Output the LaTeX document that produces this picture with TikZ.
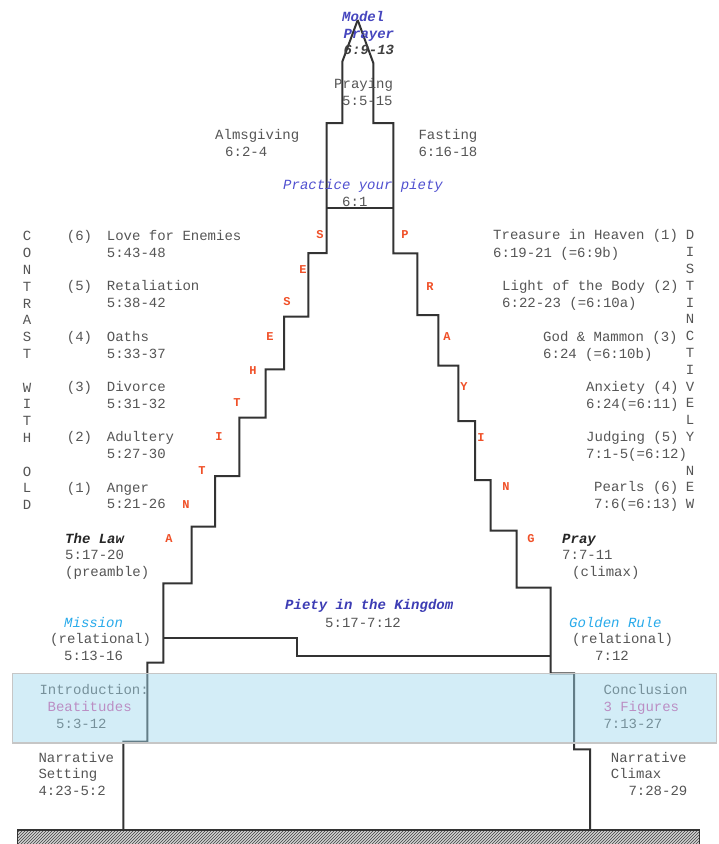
\documentclass[tikz,border=0pt]{standalone}
\usepackage{fontspec}
\newfontfamily\mono{Liberation Mono}
\usetikzlibrary{patterns}
\definecolor{tgray}{HTML}{555555}
\definecolor{lgray}{HTML}{333333}
\definecolor{mblue}{HTML}{4646BE}
\definecolor{pblue}{HTML}{5050D0}
\definecolor{kblue}{HTML}{3C3CB4}
\definecolor{cyanb}{HTML}{28AAEB}
\definecolor{magb}{HTML}{D250A0}
\definecolor{redl}{HTML}{F05028}
\definecolor{bandc}{RGB}{159,217,239}
\begin{document}
\begin{tikzpicture}[x=1pt,y=-1pt,
  txt/.style={anchor=base west, inner sep=0pt, yshift=-4.8pt, font=\mono\fontsize{14}{16.8}\selectfont, text=tgray},
  vtxt/.style={txt, anchor=base},
  bi/.style={font=\mono\fontsize{14}{16.8}\selectfont\bfseries\itshape},
  it/.style={font=\mono\fontsize{14}{16.8}\selectfont\itshape},
  redlet/.style={anchor=center, inner sep=0pt, font=\mono\fontsize{12}{12}\selectfont\bfseries, text=redl},
  outline/.style={draw=lgray, line width=2pt, line join=miter}]
\useasboundingbox (0,0) rectangle (719,844);
\fill[white] (0,0) rectangle (719,844);

% hatched ground
\fill[gray!35] (17.3,830) rectangle (699.3,848);
\fill[pattern=north east lines, pattern color=black!75] (17.3,830) rectangle (699.3,848);
\draw[lgray, line width=1.2pt] (17.3,848) -- (17.3,830) -- (699.3,830) -- (699.3,848);

% main outline
\draw[outline] (357.7,20) -- (342.3,61.7) -- (342.3,123) -- (326.7,123) -- (326.7,253)
  -- (308.3,253) -- (308.3,316.7) -- (284,316.7) -- (284,369.3) -- (265.7,369.3)
  -- (265.7,417.7) -- (239.3,417.7) -- (239.3,476) -- (215,476) -- (215,526.7)
  -- (191.7,526.7) -- (191.7,583.3) -- (163.3,583.3) -- (163.3,662.7) -- (147.3,662.7)
  -- (147.3,741.5) -- (123.3,741.5) -- (123.3,830);
\draw[outline] (357.7,20) -- (373.3,63) -- (373.3,123) -- (393.3,123) -- (393.3,253.3)
  -- (417.3,253.3) -- (417.3,315) -- (438.3,315) -- (438.3,365.7) -- (458.3,365.7)
  -- (458.3,421) -- (475,421) -- (475,480) -- (490.7,480) -- (490.7,530.7)
  -- (516.7,530.7) -- (516.7,587.7) -- (550.7,587.7) -- (550.7,673.3) -- (574,673.3)
  -- (574,749.3) -- (590,749.3) -- (590,830);
\draw[outline] (326.7,208.3) -- (393.3,208.3);
\draw[outline] (163.3,637.5) -- (296.7,637.5) -- (296.7,656) -- (550.7,656);

% top texts
\node[txt,bi,text=mblue] (model) at (342,17) {Model};
\node[txt,bi,text=mblue] (prayer) at (343.5,33.5) {Prayer};
\node[txt,bi,text=black!75] (mpref) at (343.5,50) {6:9-13};
\node[txt] (praying) at (334,84) {Praying};
\node[txt] (prayref) at (342,101) {5:5-15};
\node[txt] (alms) at (215,135) {Almsgiving};
\node[txt] (almsref) at (225,152) {6:2-4};
\node[txt] (fast) at (418.3,135) {Fasting};
\node[txt] (fastref) at (418.3,152) {6:16-18};
\node[txt,it,text=pblue] (practice) at (283,185) {Practice your piety};
\node[txt] (practref) at (342,202) {6:1};

% left column
\foreach \c [count=\i from 0] in {C,O,N,T,R,A,S,T,,W,I,T,H,,O,L,D}
  \node[vtxt] (cw\i) at (27,236+16.8*\i) {\c};
\node[txt] (n6) at (66.7,236) {(6)};
\node[txt] (love) at (106.7,236) {Love for Enemies};
\node[txt] (loveref) at (106.7,253) {5:43-48};
\node[txt] (n5) at (66.7,286) {(5)};
\node[txt] (retal) at (106.7,286) {Retaliation};
\node[txt] (retalref) at (106.7,303) {5:38-42};
\node[txt] (n4) at (66.7,337) {(4)};
\node[txt] (oaths) at (106.7,337) {Oaths};
\node[txt] (oathsref) at (106.7,354) {5:33-37};
\node[txt] (n3) at (66.7,387) {(3)};
\node[txt] (divorce) at (106.7,387) {Divorce};
\node[txt] (divref) at (106.7,404) {5:31-32};
\node[txt] (n2) at (66.7,437) {(2)};
\node[txt] (adult) at (106.7,437) {Adultery};
\node[txt] (adultref) at (106.7,454) {5:27-30};
\node[txt] (n1) at (66.7,488) {(1)};
\node[txt] (anger) at (106.7,488) {Anger};
\node[txt] (angerref) at (106.7,504) {5:21-26};

% right column
\foreach \c [count=\i from 0] in {D,I,S,T,I,N,C,T,I,V,E,L,Y,,N,E,W}
  \node[vtxt] (dn\i) at (690,235+16.8*\i) {\c};
\node[txt] (treas) at (493,235) {Treasure in Heaven (1)};
\node[txt] (treasref) at (493,253) {6:19-21 (=6:9b)};
\node[txt] (light) at (502,286) {Light of the Body (2)};
\node[txt] (lightref) at (502,303) {6:22-23 (=6:10a)};
\node[txt] (god) at (543,337) {God \& Mammon (3)};
\node[txt] (godref) at (543,354) {6:24 (=6:10b)};
\node[txt] (anx) at (586,387) {Anxiety (4)};
\node[txt] (anxref) at (586,404) {6:24(=6:11)};
\node[txt] (judg) at (586,437) {Judging (5)};
\node[txt] (judgref) at (586,454) {7:1-5(=6:12)};
\node[txt] (pearls) at (594,487) {Pearls (6)};
\node[txt] (pearlsref) at (594,504) {7:6(=6:13)};

% red letters
\node[redlet] (rS1) at (320,235) {S};
\node[redlet] (rE1) at (303,270) {E};
\node[redlet] (rS2) at (287,302) {S};
\node[redlet] (rE2) at (270,337) {E};
\node[redlet] (rH) at (253,371) {H};
\node[redlet] (rT1) at (237,403) {T};
\node[redlet] (rI) at (219,437) {I};
\node[redlet] (rT2) at (202,471) {T};
\node[redlet] (rN) at (186,505) {N};
\node[redlet] (rA) at (169,539) {A};
\node[redlet] (pP) at (405,235) {P};
\node[redlet] (pR) at (430,287) {R};
\node[redlet] (pA) at (447,337) {A};
\node[redlet] (pY) at (464,387) {Y};
\node[redlet] (pI) at (481,438) {I};
\node[redlet] (pN) at (506,487) {N};
\node[redlet] (pG) at (531,539) {G};

% lower texts
\node[txt,bi,text=black!85] (law) at (65,539) {The Law};
\node[txt] (lawref) at (65,555) {5:17-20};
\node[txt] (pream) at (65,572) {(preamble)};
\node[txt,it,text=cyanb] (mission) at (64,623) {Mission};
\node[txt] (relL) at (50,639) {(relational)};
\node[txt] (missref) at (64,656) {5:13-16};
\node[txt,bi,text=black!85] (pray) at (562,539) {Pray};
\node[txt] (prayref2) at (562,555) {7:7-11};
\node[txt] (climax) at (572,572) {(climax)};
\node[txt,it,text=cyanb] (golden) at (569,623) {Golden Rule};
\node[txt] (relR) at (572,639) {(relational)};
\node[txt] (goldref) at (595,656) {7:12};
\node[txt,bi,text=kblue] (piety) at (285,605) {Piety in the Kingdom};
\node[txt] (pietyref) at (325,623) {5:17-7:12};

\node[txt] (intro) at (39.3,690) {Introduction:};
\node[txt,text=magb] (beat) at (47.5,706.7) {Beatitudes};
\node[txt] (beatref) at (56,723.3) {5:3-12};
\node[txt] (concl) at (603.3,690) {Conclusion};
\node[txt,text=magb] (figs) at (603.3,706.7) {3 Figures};
\node[txt] (figsref) at (603.3,723.3) {7:13-27};
\node[txt] (narrL) at (38.3,757.3) {Narrative};
\node[txt] (setting) at (38.3,774) {Setting};
\node[txt] (setref) at (38.3,790.7) {4:23-5:2};
\node[txt] (narrR) at (610.7,757.3) {Narrative};
\node[txt] (climR) at (610.7,774) {Climax};
\node[txt] (climref) at (628.3,790.7) {7:28-29};

% translucent band
\fill[bandc, fill opacity=0.45] (12.7,673.3) rectangle (716.7,743);
\draw[gray!45, line width=1.5pt] (12.7,673.3) rectangle (716.7,743);
\end{tikzpicture}
\end{document}
